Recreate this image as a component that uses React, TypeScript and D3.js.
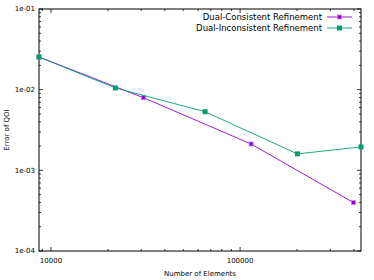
import React from 'react'
import * as d3 from 'd3'

// values (log-log)
const consistentElems = [8640, 30800, 114400, 398000]
const consistentErr = [0.0254, 0.00796, 0.00212, 0.000398]
const inconsistentElems = [8640, 21900, 65300, 201000, 436000]
const inconsistentErr = [0.0254, 0.0105, 0.00533, 0.0016, 0.00195]
const yTicks = [1e-1, 1e-2, 1e-3, 1e-4]
const yTickLabels = ['1e-01', '1e-02', '1e-03', '1e-04']
const xTicks = [10000, 100000]
const seriesNames = ['Dual-Consistent Refinement', 'Dual-Inconsistent Refinement']

const purple = '#9400d3'
const green = '#009e73'

function App () {
  const width = 374
  const height = 280
  const m = { left: 39, right: 13, top: 9, bottom: 29 }
  const x = d3.scaleLog().domain([8640, 436000]).range([m.left, width - m.right])
  const y = d3.scaleLog().domain([1e-4, 1e-1]).range([height - m.bottom, m.top])
  const x0 = m.left
  const x1 = width - m.right
  const y0 = height - m.bottom
  const y1 = m.top

  const line = d3.line<[number, number]>().x(d => x(d[0])).y(d => y(d[1]))
  const cons = consistentElems.map((v, i) => [v, consistentErr[i]] as [number, number])
  const incons = inconsistentElems.map((v, i) => [v, inconsistentErr[i]] as [number, number])

  // minor ticks 2..9 per decade
  const xMinor: number[] = []
  for (const d of [1000, 10000, 100000]) {
    for (let k = 2; k <= 9; k++) {
      const v = d * k
      if (v > 8640 && v < 436000) xMinor.push(v)
    }
  }
  const yMinor: number[] = []
  for (const d of [1e-4, 1e-3, 1e-2]) {
    for (let k = 2; k <= 9; k++) yMinor.push(d * k)
  }

  const star = (cx: number, cy: number, key: string) => (
    <rect key={key} x={cx - 2} y={cy - 2} width={4} height={4} fill={purple} stroke="#c77dea" strokeWidth={0.8} />
  )
  const square = (cx: number, cy: number, key: string) => (
    <rect key={key} x={cx - 2.5} y={cy - 2.5} width={5} height={5} fill={green} />
  )

  const font = 'DejaVu Sans, sans-serif'

  return (
    <svg width={width} height={height} style={{ position: 'absolute', left: 0, top: 0, background: '#fff' }}>
      <g stroke="#000" strokeWidth={0.8}>
        {yTicks.map(t => (
          <g key={'ym' + t}>
            <line x1={x0} x2={x0 + 4} y1={y(t)} y2={y(t)} />
            <line x1={x1} x2={x1 - 4} y1={y(t)} y2={y(t)} />
          </g>
        ))}
        {yMinor.map(t => (
          <g key={'yn' + t}>
            <line x1={x0} x2={x0 + 2} y1={y(t)} y2={y(t)} />
            <line x1={x1} x2={x1 - 2} y1={y(t)} y2={y(t)} />
          </g>
        ))}
        {xTicks.map(t => (
          <g key={'xm' + t}>
            <line x1={x(t)} x2={x(t)} y1={y0} y2={y0 - 4} />
            <line x1={x(t)} x2={x(t)} y1={y1} y2={y1 + 4} />
          </g>
        ))}
        {xMinor.map(t => (
          <g key={'xn' + t}>
            <line x1={x(t)} x2={x(t)} y1={y0} y2={y0 - 2} />
            <line x1={x(t)} x2={x(t)} y1={y1} y2={y1 + 2} />
          </g>
        ))}
      </g>
      <rect x={x0} y={y1} width={x1 - x0} height={y0 - y1} fill="none" stroke="#000" strokeWidth={1} />

      <g fontFamily={font} fontSize={7} fill="#000">
        {yTicks.map((t, i) => (
          <text key={'yl' + t} x={x0 - 4} y={y(t)} dy="0.35em" textAnchor="end">{yTickLabels[i]}</text>
        ))}
        {xTicks.map(t => (
          <text key={'xl' + t} x={x(t)} y={y0 + 12} textAnchor="middle">{t}</text>
        ))}
        <text x={(x0 + x1) / 2} y={height - 4} textAnchor="middle">Number of Elements</text>
        <text transform={`translate(9,${(y0 + y1) / 2}) rotate(-90)`} textAnchor="middle">Error of QOI</text>
      </g>

      <path d={line(cons) ?? ''} fill="none" stroke={purple} strokeWidth={0.9} />
      {cons.map((d, i) => star(x(d[0]), y(d[1]), 'st' + i))}
      <path d={line(incons) ?? ''} fill="none" stroke={green} strokeWidth={0.9} />
      {incons.map((d, i) => square(x(d[0]), y(d[1]), 'sq' + i))}

      <g fontFamily={font} fontSize={8.5} fill="#000">
        {seriesNames.map((name, i) => {
          const ly = 17 + i * 11
          const c = i === 0 ? purple : green
          return (
            <g key={name}>
              <text x={322} y={ly} dy="0.35em" textAnchor="end">{name}</text>
              <line x1={327} x2={352} y1={ly} y2={ly} stroke={c} strokeWidth={0.9} />
              {i === 0 ? star(339.5, ly, 'ls') : square(339.5, ly, 'lq')}
            </g>
          )
        })}
      </g>
    </svg>
  )
}

export default App
